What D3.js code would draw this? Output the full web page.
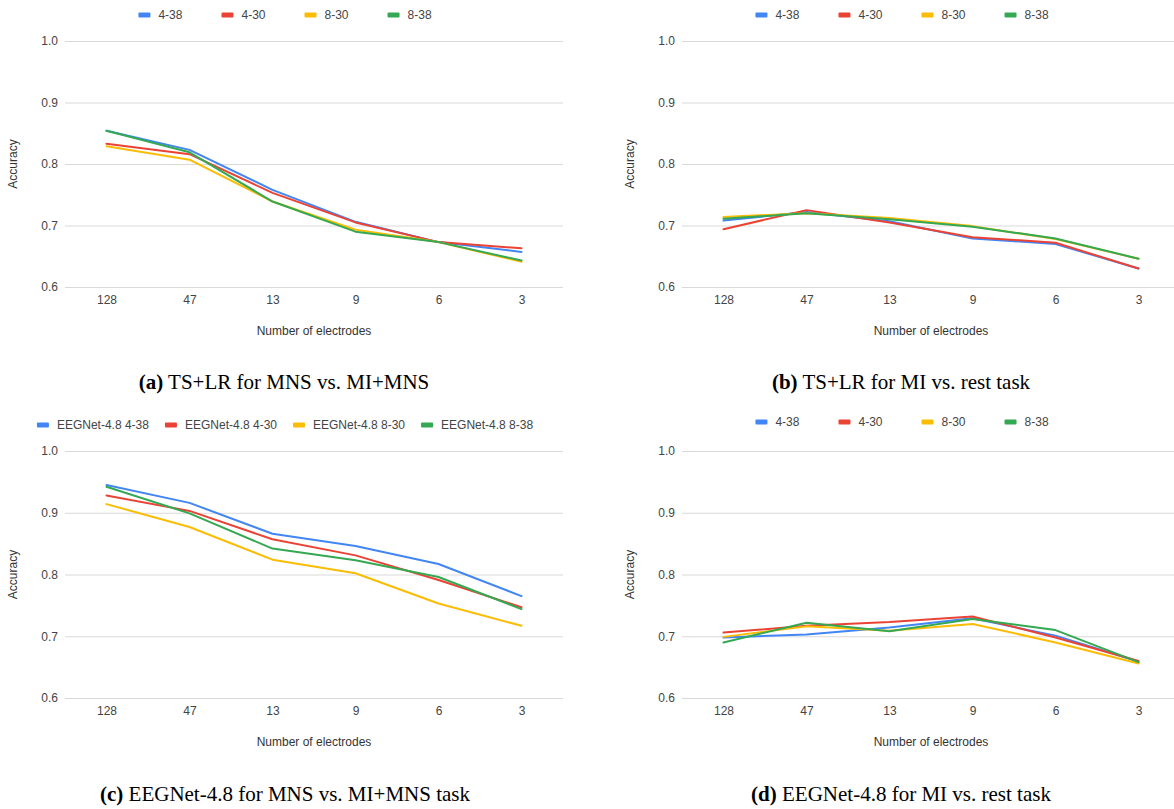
<!DOCTYPE html>
<html>
<head>
<meta charset="utf-8">
<script src="https://cdn.jsdelivr.net/npm/d3@7"></script>
<style>
  html, body { margin: 0; padding: 0; background: #fff; }
  svg { display: block; }
</style>
</head>
<body>
<svg id="chart" width="1174" height="809"></svg>
<script>
// ---- data ----
const categories = ["128", "47", "13", "9", "6", "3"];
const yTicks = [0.6, 0.7, 0.8, 0.9, 1.0];
const seriesShort = ["4-38", "4-30", "8-30", "8-38"];
const seriesEEG = ["EEGNet-4.8 4-38", "EEGNet-4.8 4-30", "EEGNet-4.8 8-30", "EEGNet-4.8 8-38"];
const seriesColors = ["#4285F4", "#EA4335", "#FBBC04", "#34A853"];

// (a) TS+LR, MNS vs. MI+MNS
const a_4_38 = [0.854, 0.823, 0.758, 0.706, 0.673, 0.657];
const a_4_30 = [0.833, 0.816, 0.753, 0.705, 0.673, 0.663];
const a_8_30 = [0.829, 0.807, 0.739, 0.693, 0.673, 0.641];
const a_8_38 = [0.854, 0.819, 0.739, 0.690, 0.673, 0.643];
// (b) TS+LR, MI vs. rest
const b_4_38 = [0.708, 0.722, 0.707, 0.679, 0.670, 0.630];
const b_4_30 = [0.694, 0.725, 0.705, 0.681, 0.672, 0.630];
const b_8_30 = [0.714, 0.720, 0.712, 0.699, 0.678, 0.646];
const b_8_38 = [0.711, 0.720, 0.710, 0.698, 0.679, 0.646];
// (c) EEGNet-4.8, MNS vs. MI+MNS
const c_4_38 = [0.945, 0.916, 0.866, 0.846, 0.817, 0.765];
const c_4_30 = [0.928, 0.903, 0.857, 0.831, 0.791, 0.747];
const c_8_30 = [0.914, 0.877, 0.824, 0.802, 0.753, 0.717];
const c_8_38 = [0.942, 0.899, 0.842, 0.823, 0.796, 0.744];
// (d) EEGNet-4.8, MI vs. rest
const d_4_38 = [0.698, 0.703, 0.714, 0.729, 0.701, 0.659];
const d_4_30 = [0.706, 0.717, 0.723, 0.732, 0.698, 0.660];
const d_8_30 = [0.699, 0.716, 0.709, 0.720, 0.690, 0.656];
const d_8_38 = [0.690, 0.722, 0.708, 0.728, 0.710, 0.658];

const captionA = ["(a)", " TS+LR for MNS vs. MI+MNS"];
const captionB = ["(b)", " TS+LR for MI vs. rest task"];
const captionC = ["(c)", " EEGNet-4.8 for MNS vs. MI+MNS task"];
const captionD = ["(d)", " EEGNet-4.8 for MI vs. rest task"];

// ---- layout ----
const svg = d3.select("#chart");
const sansFont = "'Liberation Sans', Arial, sans-serif";
const plotW = 498;

const panels = [
  { x0: 65,  top: 41,  bottom: 287, legendY: 15,  legendCx: 285, legendGap: 39, names: seriesShort, series: [a_4_38, a_4_30, a_8_30, a_8_38], caption: captionA, capX: 284, capY: 382 },
  { x0: 682, top: 41,  bottom: 287, legendY: 15,  legendCx: 902, legendGap: 39, names: seriesShort, series: [b_4_38, b_4_30, b_8_30, b_8_38], caption: captionB, capX: 901, capY: 382 },
  { x0: 65,  top: 451, bottom: 698, legendY: 425, legendCx: 285, legendGap: 16, names: seriesEEG,   series: [c_4_38, c_4_30, c_8_30, c_8_38], caption: captionC, capX: 285, capY: 794 },
  { x0: 682, top: 451, bottom: 698, legendY: 422, legendCx: 902, legendGap: 39, names: seriesShort, series: [d_4_38, d_4_30, d_8_30, d_8_38], caption: captionD, capX: 901, capY: 794 }
];

panels.forEach(p => {
  const g = svg.append("g");
  const x = d3.scalePoint().domain(categories).range([p.x0, p.x0 + plotW]).padding(0.5);
  const y = d3.scaleLinear().domain([0.6, 1.0]).range([p.bottom, p.top]);

  // y axis + gridlines
  const ya = g.append("g")
    .attr("transform", `translate(${p.x0},0)`)
    .call(d3.axisLeft(y).tickValues(yTicks).tickSize(-plotW).tickPadding(7).tickFormat(d3.format(".1f")));
  ya.select(".domain").remove();
  ya.selectAll(".tick line").attr("stroke", "#d9d9d9").attr("stroke-width", 1.2);
  ya.selectAll(".tick text").attr("fill", "#444").style("font-family", sansFont).style("font-size", "12px");

  // x axis
  const xa = g.append("g")
    .attr("transform", `translate(0,${p.bottom})`)
    .call(d3.axisBottom(x).tickSize(0).tickPadding(8));
  xa.select(".domain").remove();
  xa.selectAll(".tick text").attr("fill", "#444").style("font-family", sansFont).style("font-size", "12px");

  // axis titles
  g.append("text")
    .attr("transform", `translate(${p.x0 - 52},${(p.top + p.bottom) / 2}) rotate(-90)`)
    .attr("text-anchor", "middle").attr("dominant-baseline", "central")
    .style("font-family", sansFont).style("font-size", "12px").attr("fill", "#333")
    .text("Accuracy");
  g.append("text")
    .attr("x", p.x0 + plotW / 2).attr("y", p.bottom + 44)
    .attr("text-anchor", "middle").attr("dominant-baseline", "central")
    .style("font-family", sansFont).style("font-size", "12px").attr("fill", "#333")
    .text("Number of electrodes");

  // lines
  const line = d3.line().x((d, i) => x(categories[i])).y(d => y(d));
  p.series.forEach((vals, si) => {
    g.append("path")
      .datum(vals)
      .attr("d", line)
      .attr("fill", "none")
      .attr("stroke", seriesColors[si])
      .attr("stroke-width", 2)
      .attr("stroke-linejoin", "round")
      .attr("stroke-linecap", "round");
  });

  // legend
  const lg = g.append("g");
  const items = p.names.map((name, i) => {
    const it = lg.append("g");
    it.append("rect").attr("x", 0).attr("y", p.legendY - 2.5).attr("width", 12).attr("height", 5).attr("rx", 1).attr("fill", seriesColors[i]);
    const t = it.append("text").attr("x", 20).attr("y", p.legendY).attr("dominant-baseline", "central")
      .style("font-family", sansFont).style("font-size", "12px").attr("fill", "#444").text(name);
    return { g: it, w: 20 + t.node().getComputedTextLength() };
  });
  const total = d3.sum(items, d => d.w) + p.legendGap * (items.length - 1);
  let cx = p.legendCx - total / 2;
  items.forEach(it => { it.g.attr("transform", `translate(${cx},0)`); cx += it.w + p.legendGap; });

  // caption
  const cap = svg.append("text")
    .attr("x", p.capX).attr("y", p.capY)
    .attr("text-anchor", "middle").attr("dominant-baseline", "central")
    .style("font-family", "'Liberation Serif', 'Times New Roman', serif").style("font-size", "21px").attr("fill", "#000");
  cap.append("tspan").style("font-weight", "bold").text(p.caption[0]);
  cap.append("tspan").text(p.caption[1]);
});
</script>
</body>
</html>
